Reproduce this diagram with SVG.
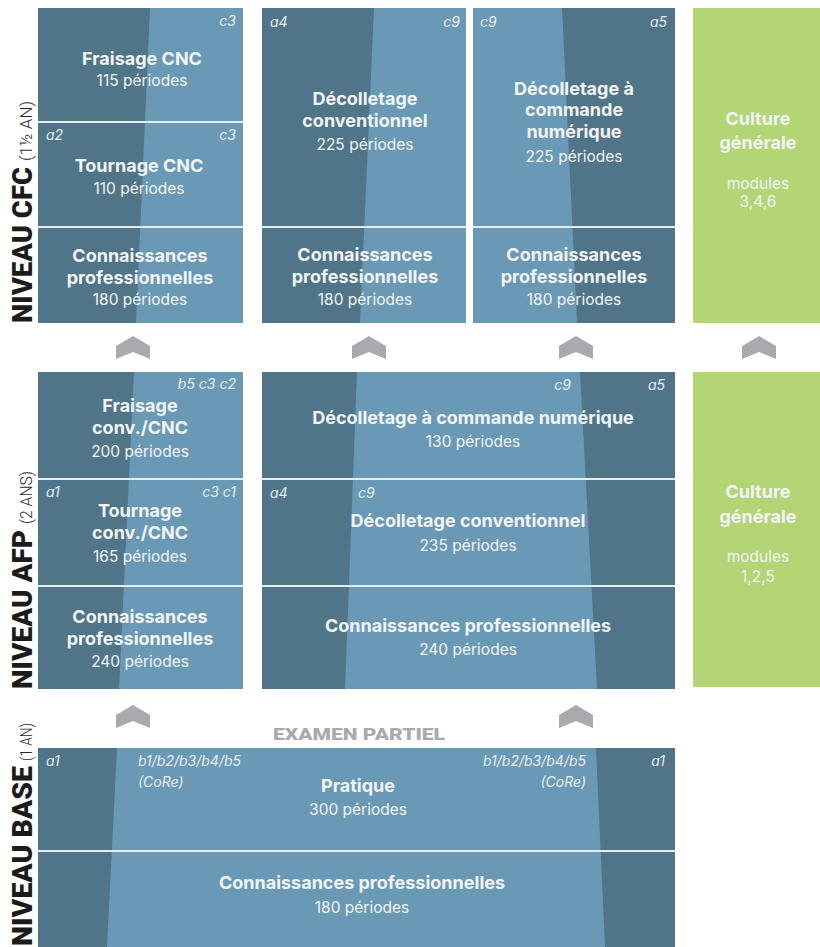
<svg xmlns="http://www.w3.org/2000/svg" xmlns:xlink="http://www.w3.org/1999/xlink" width="820" height="947" viewBox="0 0 820 947">
<style>
.dk{fill:#507488}
.lt{fill:#6a99b5}
.gr{fill:#b3d575}
.dv{stroke:#e4ecf0;stroke-width:2}
.h{font-family:Inter,Roboto,"Liberation Sans",sans-serif;font-weight:bold;font-size:18px;fill:#f2f4f5;text-anchor:middle}
.p{font-family:Inter,Roboto,"Liberation Sans",sans-serif;font-size:15.5px;fill:#f2f4f5;text-anchor:middle}
.i{font-family:Inter,Roboto,"Liberation Sans",sans-serif;font-style:italic;font-size:14px;fill:#e8eef1}
.r{text-anchor:end}
.chev{fill:#a9aaae}
.lvl{font-family:Roboto,"DejaVu Sans",sans-serif;font-weight:900;font-size:28px;fill:#1b1b1b}
.sub{font-family:Roboto,"Liberation Sans",sans-serif;font-weight:300;font-size:17px;fill:#2a2a2a}
.ex{font-family:Roboto,"DejaVu Sans",sans-serif;font-weight:900;font-size:17px;fill:#a9aaae;text-anchor:middle}
</style>
<defs>
<path id="chv" d="M-17,10 L0,0 L17,10 L17,23 L0,16 L-17,23 Z"/>
</defs>
<rect width="820" height="947" fill="#ffffff"/>

<!-- level labels -->
<g id="label-cfc">
<text transform="translate(32,323) rotate(-90)"><tspan class="lvl" textLength="156" lengthAdjust="spacingAndGlyphs">NIVEAU CFC</tspan><tspan class="sub" dx="6" textLength="60" lengthAdjust="spacingAndGlyphs">(1½ AN)</tspan></text>
</g>
<g id="label-afp">
<text transform="translate(32,689) rotate(-90)"><tspan class="lvl" textLength="159" lengthAdjust="spacingAndGlyphs">NIVEAU AFP</tspan><tspan class="sub" dx="6" textLength="53" lengthAdjust="spacingAndGlyphs">(2 ANS)</tspan></text>
</g>
<g id="label-base">
<text transform="translate(32,946) rotate(-90)"><tspan class="lvl" textLength="180" lengthAdjust="spacingAndGlyphs">NIVEAU BASE</tspan><tspan class="sub" dx="5" textLength="38" lengthAdjust="spacingAndGlyphs">(1 AN)</tspan></text>
</g>

<!-- CFC column 1 -->
<g id="cfc-fraisage-tournage">
<rect class="dk" x="38" y="8" width="205" height="315"/>
<polygon class="lt" points="150,8 243,8 243,323 136,323"/>
<line class="dv" x1="38" y1="122" x2="243" y2="122"/>
<line class="dv" x1="38" y1="227" x2="243" y2="227"/>
<text class="i r" x="236" y="26">c3</text>
<text class="h" x="142" y="65">Fraisage CNC</text>
<text class="p" x="142" y="86">115 périodes</text>
<text class="i" x="46" y="140">a2</text>
<text class="i r" x="236" y="140">c3</text>
<text class="h" x="139" y="172">Tournage CNC</text>
<text class="p" x="139" y="194">110 périodes</text>
<text class="h" x="140" y="262">Connaissances</text>
<text class="h" x="140" y="284">professionnelles</text>
<text class="p" x="140" y="305">180 périodes</text>
</g>

<!-- CFC column 2 -->
<g id="cfc-decolletage-conv">
<rect class="dk" x="262" y="8" width="204" height="315"/>
<polygon class="lt" points="374,8 466,8 466,323 360,323"/>
<line class="dv" x1="262" y1="227" x2="466" y2="227"/>
<text class="i" x="270" y="27">a4</text>
<text class="i r" x="460" y="27">c9</text>
<text class="h" x="365" y="105">Décolletage</text>
<text class="h" x="365" y="127">conventionnel</text>
<text class="p" x="365" y="150">225 périodes</text>
<text class="h" x="365" y="261">Connaissances</text>
<text class="h" x="365" y="283">professionnelles</text>
<text class="p" x="365" y="305">180 périodes</text>
</g>

<!-- CFC column 3 -->
<g id="cfc-decolletage-cn">
<rect class="dk" x="473" y="8" width="202" height="315"/>
<polygon class="lt" points="473,8 562,8 577,323 473,323"/>
<line class="dv" x1="473" y1="227" x2="675" y2="227"/>
<text class="i" x="480" y="27">c9</text>
<text class="i r" x="667" y="27">a5</text>
<text class="h" x="574" y="95">Décolletage à</text>
<text class="h" x="574" y="116">commande</text>
<text class="h" x="574" y="138">numérique</text>
<text class="p" x="574" y="162">225 périodes</text>
<text class="h" x="574" y="261">Connaissances</text>
<text class="h" x="574" y="283">professionnelles</text>
<text class="p" x="574" y="305">180 périodes</text>
</g>

<!-- CFC culture générale -->
<g id="cfc-culture">
<rect class="gr" x="693" y="8" width="127" height="315"/>
<text class="h" x="758" y="125">Culture</text>
<text class="h" x="758" y="149">générale</text>
<text class="p" x="758" y="189">modules</text>
<text class="p" x="758" y="207">3,4,6</text>
</g>

<!-- AFP column 1 -->
<g id="afp-fraisage-tournage">
<rect class="dk" x="38" y="372" width="205" height="317"/>
<polygon class="lt" points="134,372 243,372 243,689 119,689"/>
<line class="dv" x1="38" y1="479" x2="243" y2="479"/>
<line class="dv" x1="38" y1="586" x2="243" y2="586"/>
<text class="i r" x="236" y="389">b5 c3 c2</text>
<text class="h" x="140" y="412">Fraisage</text>
<text class="h" x="140" y="434">conv./CNC</text>
<text class="p" x="140" y="457">200 périodes</text>
<text class="i" x="46" y="497">a1</text>
<text class="i r" x="236" y="497">c3 c1</text>
<text class="h" x="140" y="517">Tournage</text>
<text class="h" x="140" y="539">conv./CNC</text>
<text class="p" x="140" y="562">165 périodes</text>
<text class="h" x="140" y="623">Connaissances</text>
<text class="h" x="140" y="645">professionnelles</text>
<text class="p" x="140" y="667">240 périodes</text>
</g>

<!-- AFP column 2 -->
<g id="afp-decolletage">
<rect class="dk" x="262" y="372" width="413" height="317"/>
<polygon class="lt" points="357,372 580,372 597,689 345,689"/>
<line class="dv" x1="262" y1="479" x2="675" y2="479"/>
<line class="dv" x1="262" y1="586" x2="675" y2="586"/>
<text class="i r" x="571" y="390">c9</text>
<text class="i r" x="665" y="390">a5</text>
<text class="h" x="473" y="424">Décolletage à commande numérique</text>
<text class="p" x="473" y="447">130 périodes</text>
<text class="i" x="270" y="498">a4</text>
<text class="i" x="358" y="498">c9</text>
<text class="h" x="468" y="527">Décolletage conventionnel</text>
<text class="p" x="468" y="551">235 périodes</text>
<text class="h" x="468" y="632">Connaissances professionnelles</text>
<text class="p" x="468" y="655">240 périodes</text>
</g>

<!-- AFP culture générale -->
<g id="afp-culture">
<rect class="gr" x="693" y="372" width="127" height="315"/>
<text class="h" x="758" y="498">Culture</text>
<text class="h" x="758" y="523">générale</text>
<text class="p" x="758" y="562">modules</text>
<text class="p" x="758" y="582">1,2,5</text>
</g>

<!-- Examen partiel -->
<g id="examen-partiel">
<text class="ex" x="359" y="740" textLength="172" lengthAdjust="spacingAndGlyphs">EXAMEN PARTIEL</text>
</g>

<!-- BASE -->
<g id="base">
<rect class="dk" x="38" y="748" width="637" height="199"/>
<polygon class="lt" points="117,748 596,748 605,947 107,947"/>
<line class="dv" x1="38" y1="851" x2="675" y2="851"/>
<text class="i" x="46" y="766">a1</text>
<text class="i" x="138" y="766">b1/b2/b3/b4/b5</text>
<text class="i" x="138" y="787">(CoRe)</text>
<text class="i r" x="586" y="766">b1/b2/b3/b4/b5</text>
<text class="i r" x="586" y="787">(CoRe)</text>
<text class="i r" x="665" y="766">a1</text>
<text class="h" x="358" y="792">Pratique</text>
<text class="p" x="358" y="815">300 périodes</text>
<text class="h" x="362" y="889">Connaissances professionnelles</text>
<text class="p" x="362" y="913">180 périodes</text>
</g>

<!-- connectors (chevrons) -->
<g id="connectors" class="chev">
<use xlink:href="#chv" href="#chv" x="133" y="336"/>
<use xlink:href="#chv" href="#chv" x="369" y="336"/>
<use xlink:href="#chv" href="#chv" x="576" y="336"/>
<use xlink:href="#chv" href="#chv" x="759" y="336"/>
<use xlink:href="#chv" href="#chv" x="133" y="705"/>
<use xlink:href="#chv" href="#chv" x="576" y="705"/>
</g>
</svg>
